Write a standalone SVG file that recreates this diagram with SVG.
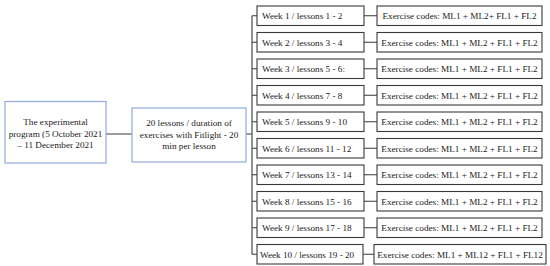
<svg xmlns="http://www.w3.org/2000/svg" width="550" height="266" viewBox="0 0 550 266">
<style>
.bg{fill:#fff}
.blue{fill:#fff;stroke:#8faadc;stroke-width:1.2}
.box{fill:#fff;stroke:#3a3a3a;stroke-width:1.1}
.ln{fill:none;stroke:#3a3a3a;stroke-width:1.1}
text{font-family:"Liberation Serif","DejaVu Serif",serif;font-size:9.2px;fill:#222}
.c{text-anchor:middle}
</style>
<rect class="bg" x="0" y="0" width="550" height="266"/>
<g id="connectors">
<path class="ln" d="M106,134H132M246,134H252M252,15.8V254.3"/>
<path class="ln" d="M252,15.8H257M252,42.3H257M252,68.8H257M252,95.3H257M252,121.8H257M252,148.3H257M252,174.8H257M252,201.3H257M252,227.8H257M252,254.3H257"/>
<path class="ln" d="M364,15.8H377M364,42.3H377M364,68.8H377M364,95.3H377M364,121.8H377M364,148.3H377M364,174.8H377M364,201.3H377M364,227.8H377M363,254.3H374"/>
</g>
<g id="program">
<rect class="blue" x="5" y="101.5" width="101" height="61.5"/>
<text class="c" x="55.5" y="125">The experimental</text>
<text class="c" x="55.5" y="136.5">program (5 October 2021</text>
<text class="c" x="55.5" y="148">– 11 December 2021</text>
</g>
<g id="lessons">
<rect class="blue" x="132" y="108" width="114" height="54"/>
<text class="c" x="189" y="126">20 lessons / duration of</text>
<text class="c" x="189" y="137.5">exercises with Fitlight - 20</text>
<text class="c" x="189" y="149">min per lesson</text>
</g>
<g id="week1"><rect class="box" x="257" y="6" width="107" height="19.5"/><text x="262" y="19">Week 1 / lessons 1 - 2</text></g>
<g id="week2"><rect class="box" x="257" y="32.5" width="107" height="19.5"/><text x="262" y="45.5">Week 2 / lessons 3 - 4</text></g>
<g id="week3"><rect class="box" x="257" y="59" width="107" height="19.5"/><text x="262" y="72">Week 3 / lessons 5 - 6:</text></g>
<g id="week4"><rect class="box" x="257" y="85.5" width="107" height="19.5"/><text x="262" y="98.5">Week 4 / lessons 7 - 8</text></g>
<g id="week5"><rect class="box" x="257" y="112" width="107" height="19.5"/><text x="262" y="125">Week 5 / lessons 9 - 10</text></g>
<g id="week6"><rect class="box" x="257" y="138.5" width="107" height="19.5"/><text x="262" y="151.5">Week 6 / lessons 11 - 12</text></g>
<g id="week7"><rect class="box" x="257" y="165" width="107" height="19.5"/><text x="262" y="178">Week 7 / lessons 13 - 14</text></g>
<g id="week8"><rect class="box" x="257" y="191.5" width="107" height="19.5"/><text x="262" y="204.5">Week 8 / lessons 15 - 16</text></g>
<g id="week9"><rect class="box" x="257" y="218" width="107" height="19.5"/><text x="262" y="231">Week 9 / lessons 17 - 18</text></g>
<g id="week10"><rect class="box" x="257" y="244.5" width="106" height="19.5"/><text x="260" y="257.5">Week 10 / lessons 19 - 20</text></g>
<g id="codes1"><rect class="box" x="377" y="6" width="165" height="19.5"/><text class="c" x="459.5" y="19">Exercise codes: ML1 + ML2+ FL1 + FL2</text></g>
<g id="codes2"><rect class="box" x="377" y="32.5" width="165" height="19.5"/><text class="c" x="459.5" y="45.5">Exercise codes: ML1 + ML2 + FL1 + FL2</text></g>
<g id="codes3"><rect class="box" x="377" y="59" width="165" height="19.5"/><text class="c" x="459.5" y="72">Exercise codes: ML1 + ML2 + FL1 + FL2</text></g>
<g id="codes4"><rect class="box" x="377" y="85.5" width="165" height="19.5"/><text class="c" x="459.5" y="98.5">Exercise codes: ML1 + ML2 + FL1 + FL2</text></g>
<g id="codes5"><rect class="box" x="377" y="112" width="165" height="19.5"/><text class="c" x="459.5" y="125">Exercise codes: ML1 + ML2 + FL1 + FL2</text></g>
<g id="codes6"><rect class="box" x="377" y="138.5" width="165" height="19.5"/><text class="c" x="459.5" y="151.5">Exercise codes: ML1 + ML2 + FL1 + FL2</text></g>
<g id="codes7"><rect class="box" x="377" y="165" width="165" height="19.5"/><text class="c" x="459.5" y="178">Exercise codes: ML1 + ML2 + FL1 + FL2</text></g>
<g id="codes8"><rect class="box" x="377" y="191.5" width="165" height="19.5"/><text class="c" x="459.5" y="204.5">Exercise codes: ML1 + ML2 + FL1 + FL2</text></g>
<g id="codes9"><rect class="box" x="377" y="218" width="165" height="19.5"/><text class="c" x="459.5" y="231">Exercise codes: ML1 + ML2 + FL1 + FL2</text></g>
<g id="codes10"><rect class="box" x="374" y="244.5" width="172" height="19.5"/><text class="c" x="460" y="257.5">Exercise codes: ML1 + ML12 + FL1 + FL12</text></g>
</svg>
